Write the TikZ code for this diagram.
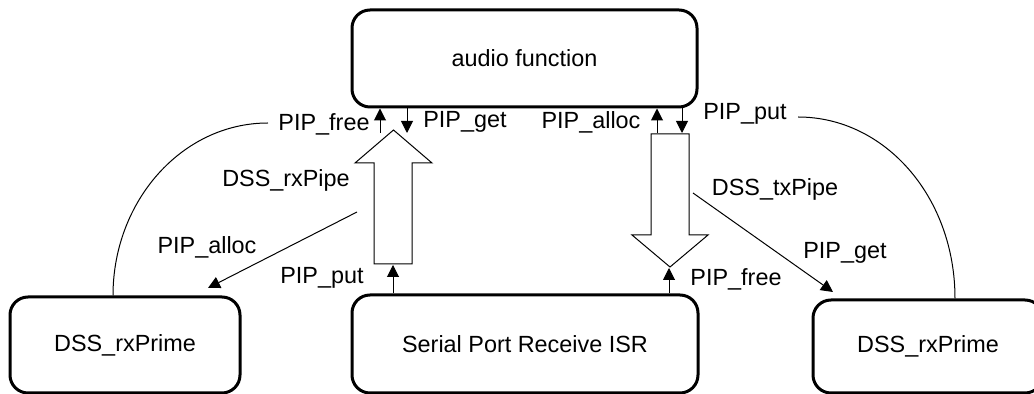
\documentclass[tikz,border=0pt]{standalone}
\usepackage{fontspec}
\setmainfont{Liberation Sans}
\usetikzlibrary{arrows.meta}
\begin{document}
\begin{tikzpicture}[x=0.5pt,y=-0.5pt,
  box/.style={draw,line width=1.5pt,rounded corners=9pt,inner sep=0pt,font=\fontsize{11.7}{14}\selectfont},
  lbl/.style={font=\fontsize{11.7}{14}\selectfont,inner sep=0pt},
  thinline/.style={line width=0.5pt},
  tip/.style={-{Triangle[length=6pt,width=6pt]},line width=0.5pt},
  hollow/.style={draw,line width=0.5pt,fill=white}]
\useasboundingbox (0,0) rectangle (1034,394);
\begin{scope}
\clip (0,0) rectangle (1034,394);
% boxes
\node[box,minimum width=172.5pt,minimum height=48.5pt] (audio) at (524.5,58.5) {audio function};
\node[box,minimum width=115pt,minimum height=48pt] (lprime) at (125,345) {DSS\_rxPrime};
\node[box,minimum width=173pt,minimum height=49pt] (isr) at (525,344) {Serial Port Receive ISR};
\node[box,minimum width=115pt,minimum height=46.5pt] (rprime) at (928,346.5) {DSS\_rxPrime};
% hollow pipe arrows
\path[hollow] (374,264) -- (374,163) -- (355,163) -- (393.5,130) -- (432,163) -- (412,163) -- (412,264) -- cycle;
\path[hollow] (651,134) -- (651,235) -- (632,235) -- (670,267) -- (708,235) -- (689,235) -- (689,134) -- cycle;
% free ends
\coordinate (fA) at (380,133);
\coordinate (gA) at (407,133);
\coordinate (aA) at (657,133);
\coordinate (pA) at (682,133);
\coordinate (putL) at (393,265);
\coordinate (freeR) at (669,268);
\coordinate (dL0) at (357,212);
\coordinate (dL1) at (208,288);
\coordinate (dR0) at (693,193);
\coordinate (dR1) at (833,292);
\coordinate (arcL) at (268,123);
\coordinate (arcR) at (798,117);
% small arrows
\draw[tip] (fA) -- (audio.south -| fA);
\draw[tip] (audio.south -| gA) -- (gA);
\draw[tip] (aA) -- (audio.south -| aA);
\draw[tip] (audio.south -| pA) -- (pA);
\draw[tip] (isr.north -| putL) -- (putL);
\draw[tip] (isr.north -| freeR) -- (freeR);
% diagonals
\draw[tip] (dL0) -- (dL1);
\draw[tip] (dR0) -- (dR1);
% arcs
\draw[thinline] (arcL) .. controls (182,123) and (113,201) .. (lprime.north -| 113,0);
\draw[thinline] (arcR) .. controls (885,117) and (955,197) .. (rprime.north -| 955,0);
% labels
\node[lbl] (l1) at (324,124) {PIP\_free};
\node[lbl] (l2) at (465,122) {PIP\_get};
\node[lbl] (l3) at (591,122) {PIP\_alloc};
\node[lbl] (l4) at (745,114) {PIP\_put};
\node[lbl] (l5) at (286,180) {DSS\_rxPipe};
\node[lbl] (l6) at (775,189) {DSS\_txPipe};
\node[lbl] (l7) at (207,247) {PIP\_alloc};
\node[lbl] (l8) at (322,278) {PIP\_put};
\node[lbl] (l9) at (736,279) {PIP\_free};
\node[lbl] (l10) at (845,253) {PIP\_get};
\end{scope}
\end{tikzpicture}
\end{document}
